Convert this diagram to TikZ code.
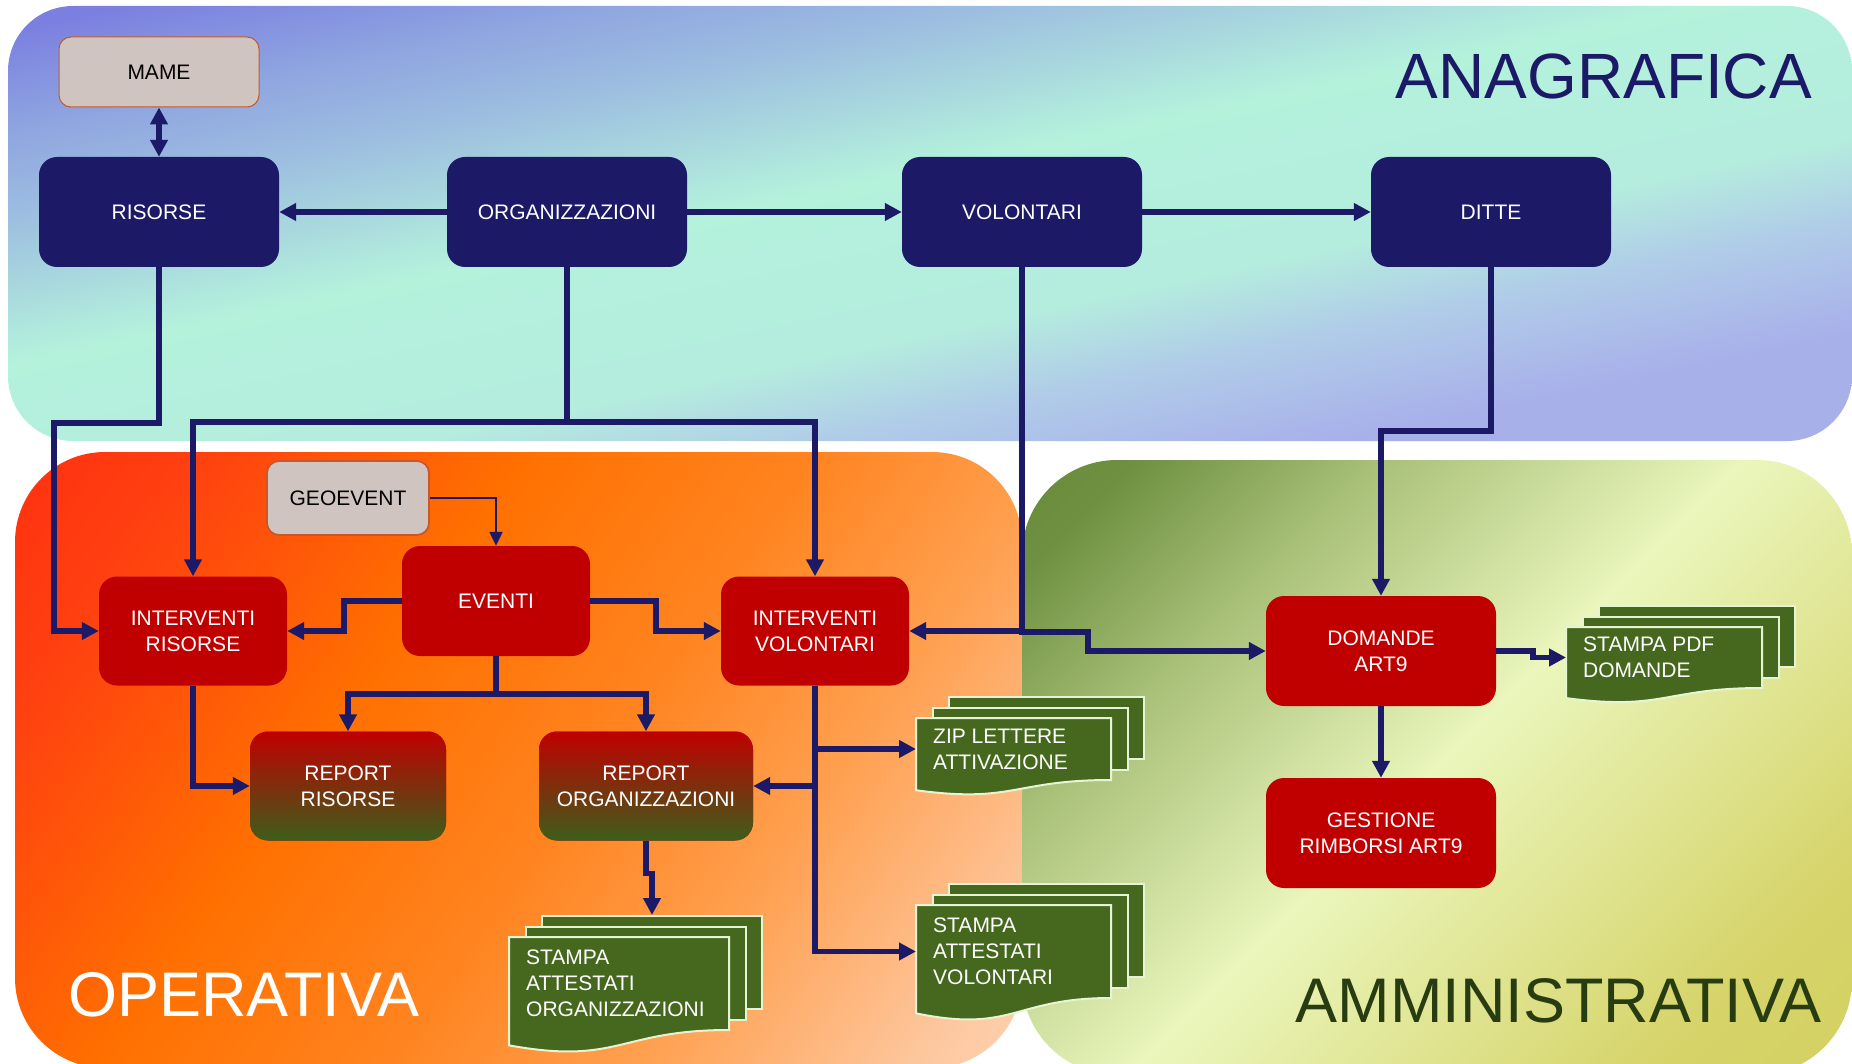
\documentclass[tikz,border=0pt]{standalone}
\usepackage{fontspec}
\setsansfont{Liberation Sans}
\usepackage{tikz}
\usetikzlibrary{shapes,arrows.meta,positioning,calc}
\definecolor{anagnavy}{HTML}{1C1A66}
\definecolor{boxred}{HTML}{C00000}
\definecolor{boxgrey}{HTML}{D0C4C0}
\definecolor{greyedge}{HTML}{C8582A}
\definecolor{docgreen}{HTML}{46681E}
\definecolor{docedge}{HTML}{E6F4D6}
\definecolor{repgreen}{HTML}{3C5E1A}
\definecolor{ammgreen}{HTML}{283C12}
\pgfdeclareverticalshading{anagshade}{100bp}{color(0bp)=(rgb,255:red,168;green,176;blue,234); color(28bp)=(rgb,255:red,168;green,176;blue,234); color(36bp)=(rgb,255:red,176;green,204;blue,232); color(42bp)=(rgb,255:red,180;green,236;blue,222); color(54bp)=(rgb,255:red,180;green,242;blue,220); color(65bp)=(rgb,255:red,156;green,188;blue,224); color(71bp)=(rgb,255:red,142;green,164;blue,224); color(78bp)=(rgb,255:red,123;green,128;blue,224); color(100bp)=(rgb,255:red,123;green,128;blue,224)}
\pgfdeclareverticalshading{opshade}{100bp}{color(0bp)=(rgb,255:red,253;green,232;blue,216); color(6bp)=(rgb,255:red,253;green,230;blue,212); color(20bp)=(rgb,255:red,253;green,200;blue,160); color(34bp)=(rgb,255:red,255;green,160;blue,80); color(46bp)=(rgb,255:red,255;green,132;blue,32); color(60bp)=(rgb,255:red,255;green,112;blue,0); color(68bp)=(rgb,255:red,255;green,88;blue,8); color(76bp)=(rgb,255:red,255;green,64;blue,16); color(85bp)=(rgb,255:red,255;green,48;blue,16); color(100bp)=(rgb,255:red,255;green,48;blue,16)}
\pgfdeclareverticalshading{amshade}{100bp}{color(0bp)=(rgb,255:red,208;green,204;blue,85); color(25bp)=(rgb,255:red,214;green,212;blue,106); color(50bp)=(rgb,255:red,234;green,246;blue,188); color(68bp)=(rgb,255:red,168;green,192;blue,120); color(80bp)=(rgb,255:red,110;green,144;blue,64); color(100bp)=(rgb,255:red,88;green,125;blue,46)}
\newcommand{\boxfont}{\sffamily\fontsize{21}{26}\selectfont}
\newcommand{\titlefont}{\sffamily\fontsize{63}{63}\selectfont}
% stack of three pages: name, x, y (top left of front page), width, height, text
\newcommand{\docstack}[6]{%
  \node[docpage, minimum width=#4pt, minimum height=#5pt, anchor=north west] (#1-back) at (#2+32,#3-22) {};
  \node[docpage, minimum width=#4pt, minimum height=#5pt, anchor=north west] (#1-mid) at (#2+16,#3-11) {};
  \filldraw[docpage] (#2,#3) -- (#2+#4,#3) -- (#2+#4,#3+#5)
    .. controls (#2+#4/2,#3+#5) and (#2+#4/2,#3+1.38*#5) .. (#2,#3+1.165*#5) -- cycle;
  \node[doctext, anchor=west] (#1) at (#2,#3+#5/2) {#6};
}

\begin{document}
\begin{tikzpicture}[
    x=1pt, y=-1pt,
    navybox/.style={rectangle, rounded corners=18pt, fill=anagnavy, text=white, minimum width=240pt, minimum height=110pt, align=center, inner sep=0pt, font=\boxfont},
    redbox/.style={rectangle, rounded corners=18pt, fill=boxred, text=white, minimum width=188pt, minimum height=109pt, align=center, inner sep=0pt, font=\boxfont},
    reportbox/.style={redbox, top color=boxred, bottom color=repgreen},
    greybox/.style={rectangle, rounded corners=12pt, fill=boxgrey, draw=greyedge, align=center, inner sep=0pt, font=\boxfont},
    docpage/.style={fill=docgreen, draw=docedge, line width=2pt},
    doctext/.style={align=left, inner xsep=17pt, inner ysep=0pt, text=white, font=\boxfont},
    arr/.style={->, >={Triangle[length=17pt, width=17pt]}, draw=anagnavy, line width=5.5pt},
    thinarr/.style={->, >={Triangle[length=14pt, width=13pt]}, draw=anagnavy, line width=2.2pt}
]
\useasboundingbox (0,0) rectangle (1852,1064);

% panels
\shade[shading=anagshade, shading angle=12, rounded corners=65pt] (8,6) rectangle (1852,441);
\shade[shading=opshade, shading angle=55, rounded corners=90pt] (15,452) rectangle (1022,1068);
\shade[shading=amshade, shading angle=45, rounded corners=95pt] (1022,460) rectangle (1852,1075);

\node[font=\sffamily\fontsize{64}{64}\selectfont, text=anagnavy, anchor=base east, inner sep=0pt] (anagrafica) at (1812,99) {ANAGRAFICA};
\node[font=\titlefont, text=white, anchor=base west, inner sep=0pt] (operativa) at (68,1016) {OPERATIVA};
\node[font=\titlefont, text=ammgreen, anchor=base east, inner sep=0pt] (amministrativa) at (1822,1022) {AMMINISTRATIVA};

% anagrafica
\node[greybox, line width=1pt, minimum width=200pt, minimum height=70pt] (mame) at (159,72) {MAME};
\node[navybox] (risorse) at (159,212) {RISORSE};
\node[navybox] (organizzazioni) at (567,212) {ORGANIZZAZIONI};
\node[navybox] (volontari) at (1022,212) {VOLONTARI};
\node[navybox] (ditte) at (1491,212) {DITTE};

% operativa
\node[greybox, line width=1.8pt, minimum width=162pt, minimum height=74pt] (geoevent) at (348,498) {GEOEVENT};
\node[redbox, minimum height=110pt] (eventi) at (496,601) {EVENTI};
\node[redbox] (intrisorse) at (193,631) {INTERVENTI\\RISORSE};
\node[redbox] (intvolontari) at (815,631) {INTERVENTI\\VOLONTARI};
\node[reportbox, minimum width=196pt] (reprisorse) at (348,786) {REPORT\\RISORSE};
\node[reportbox, minimum width=214pt] (reporg) at (646,786) {REPORT\\ORGANIZZAZIONI};
\docstack{zip}{916}{718}{195}{62}{ZIP LETTERE\\ATTIVAZIONE}
\docstack{stvolontari}{916}{905}{195}{93}{STAMPA\\ATTESTATI\\VOLONTARI}
\docstack{storg}{509}{937}{220}{93}{STAMPA\\ATTESTATI\\ORGANIZZAZIONI}

% amministrativa
\node[redbox, minimum width=230pt, minimum height=110pt] (domande) at (1381,651) {DOMANDE\\ART9};
\node[redbox, minimum width=230pt, minimum height=110pt] (rimborsi) at (1381,833) {GESTIONE\\RIMBORSI ART9};
\docstack{stpdf}{1566}{627}{196}{61}{STAMPA PDF\\DOMANDE}

% connectors
\draw[arr, <->] (mame) -- (risorse);
\draw[arr] (organizzazioni) -- (risorse);
\draw[arr] (organizzazioni) -- (volontari);
\draw[arr] (volontari) -- (ditte);
\draw[arr] (risorse.south) -- ++(0,156) -| ($(intrisorse.west)+(-45,0)$) -- (intrisorse.west);
\draw[arr] (organizzazioni.south) -- ++(0,155) -| (intrisorse.north);
\draw[arr] (organizzazioni.south) -- ++(0,155) -| (intvolontari.north);
\draw[arr] (volontari.south) |- (intvolontari.east);
\draw[arr] (volontari.south) -- ++(0,365) -- ++(66,0) |- (domande.west);
\draw[arr] (ditte.south) -- ++(0,164) -| (domande.north);
\draw[thinarr] (geoevent.east) -| (eventi.north);
\draw[arr] (eventi.west) -- ++(-58,0) |- (intrisorse.east);
\draw[arr] (eventi.east) -- ++(66,0) |- (intvolontari.west);
\draw[arr] (eventi.south) -- ++(0,38) -| (reprisorse.north);
\draw[arr] (eventi.south) -- ++(0,38) -| (reporg.north);
\draw[arr] (intrisorse.south) |- (reprisorse.west);
\draw[arr] (intvolontari.south) |- (zip.west);
\draw[arr] (intvolontari.south) |- (reporg.east);
\draw[arr] (intvolontari.south) |- (stvolontari.west);
\draw[arr] (reporg.south) -- ++(0,33) -| (storg-back.north);
\draw[arr] (domande.east) -- ++(37,0) |- (stpdf.west);
\draw[arr] (domande) -- (rimborsi);
\end{tikzpicture}
\end{document}
